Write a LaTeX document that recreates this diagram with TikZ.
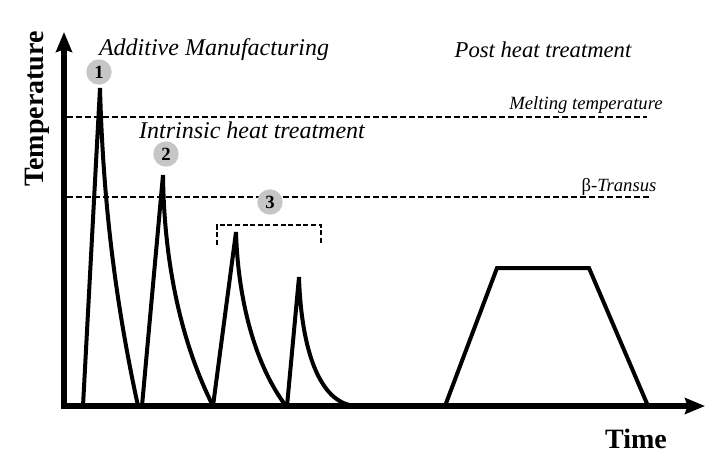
\documentclass[tikz,border=0pt]{standalone}
\usepackage{fontspec}
\setmainfont{Liberation Serif}
\usetikzlibrary{arrows.meta}

\begin{document}
\begin{tikzpicture}[x=0.75pt, y=-0.75pt,
  axis/.style={line width=4pt, {Stealth[length=15pt, width=12pt, inset=2pt]}-{Stealth[length=15pt, width=12pt, inset=2pt]}},
  curve/.style={line width=3pt},
  level/.style={line width=1.8pt, dash pattern=on 4.5pt off 2.25pt},
  bracket/.style={line width=1.2pt, dash pattern=on 3.8pt off 1.9pt},
  phase/.style={font=\fontsize{18}{20}\selectfont\itshape, anchor=base},
  lvl/.style={font=\fontsize{14}{16}\selectfont\itshape, anchor=base},
  ax/.style={font=\fontsize{21}{24}\selectfont\bfseries, anchor=base},
  num/.style={circle, fill=gray!45, inner sep=0pt, minimum size=19pt, font=\fontsize{14}{14}\selectfont\bfseries}]
\useasboundingbox (0,0) rectangle (720,462);
% axes
\coordinate (o) at (64,406);
\coordinate (ytip) at (64,32);
\coordinate (xtip) at (705,406);
\draw[axis] (ytip) |- (xtip);
\node[ax, rotate=90] (temp) at (43,109) {Temperature};
\node[ax] (time) at (636,448) {Time};
% reference temperatures
\draw[level] (67,117) -- (647,117);
\draw[level] (67,197) -- (650,197);
\node[lvl] (mt) at (586,109) {Melting temperature};
\node[lvl] (bt) at (619,191) {{\upshape β-}Transus};
% thermal cycles of the build
\draw[curve] (83,406) -- (100,88) .. controls (103,200) and (115,300) .. (138,406);
\draw[curve] (142,406) -- (163,175) .. controls (164,260) and (180,340) .. (213,406);
\draw[curve] (213,406) -- (236,232) .. controls (238,300) and (255,365) .. (286,406);
\draw[curve] (287,406) -- (299,277) .. controls (301,345) and (318,405) .. (357,406);
\draw[bracket] (217,245) -- (217,225) -- (321,225) -- (321,245);
% post treatment
\draw[curve] (445,406) -- (497,268) -- (589,268) -- (648,406);
% phases
\node[phase] (am) at (214,55) {Additive Manufacturing};
\node[phase] (iht) at (252,138) {Intrinsic heat treatment};
\node[phase, font=\fontsize{17}{20}\selectfont\itshape] (pht) at (543,57) {Post heat treatment};
\foreach \n/\x/\y in {1/99/72, 2/166/154, 3/270/202}
  \node[num] (c\n) at (\x,\y) {\n};
\end{tikzpicture}
\end{document}
